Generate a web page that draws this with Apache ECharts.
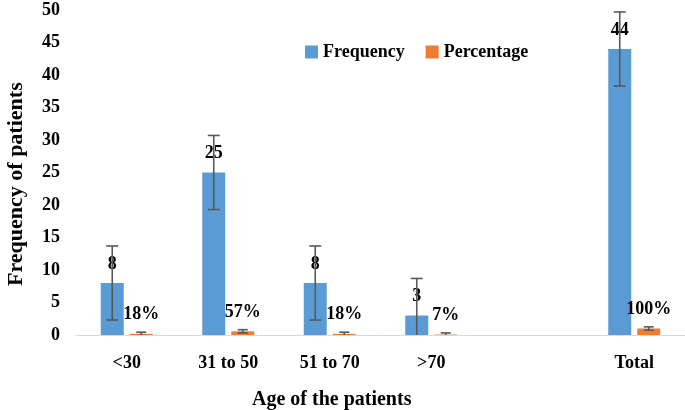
<!DOCTYPE html>
<html>
<head>
<meta charset="utf-8">
<script src="https://cdn.jsdelivr.net/npm/echarts@6/dist/echarts.min.js"></script>
<style>
html,body{margin:0;padding:0;background:#fff;}
#c{width:685px;height:410px;}
</style>
</head>
<body>
<div id="c"></div>
<script>
// ---- data ----
const categories = ['<30', '31 to 50', '51 to 70', '>70', '', 'Total'];
const frequency = [8, 25, 8, 3, null, 44];
const percentage = [0.18, 0.57, 0.18, 0.07, null, 1.0];
const frequencyError = [5.7, 5.7, 5.7, 5.7, null, 5.7];
const percentageError = [0.25, 0.25, 0.25, 0.25, null, 0.25];
const yTicks = { min: 0, max: 50, interval: 5 };

// ---- styles ----
const FONT = '"Liberation Serif", "Times New Roman", serif';
const BAR_W = 23, BAR_GAP_PX = 6;
const OFFSET = (BAR_W + BAR_GAP_PX) / 2;

const chart = echarts.init(document.getElementById('c'));

function errorSeries(values, errors, offset, capHalf) {
  return {
    type: 'custom',
    clip: true,
    silent: true,
    z: 10,
    data: values.map((v, i) => v == null ? null : [i, v, errors[i]]),
    renderItem: function (params, api) {
      const i = api.value(0), v = api.value(1), e = api.value(2);
      const hi = api.coord([i, v + e]);
      const lo = api.coord([i, v - e]);
      const x = hi[0] + offset;
      const style = { stroke: '#595959', lineWidth: 1.6 };
      return {
        type: 'group',
        children: [
          { type: 'line', shape: { x1: x, y1: hi[1], x2: x, y2: lo[1] }, style },
          { type: 'line', shape: { x1: x - capHalf, y1: hi[1], x2: x + capHalf, y2: hi[1] }, style },
          { type: 'line', shape: { x1: x - capHalf, y1: lo[1], x2: x + capHalf, y2: lo[1] }, style }
        ]
      };
    }
  };
}

const labelStyle = { fontFamily: FONT, fontWeight: 'bold', fontSize: 18, color: '#000' };

chart.setOption({
  animation: false,
  backgroundColor: '#fff',
  grid: { left: 76, right: 0, top: 10, bottom: 75, containLabel: false },
  legend: {
    data: ['Frequency', 'Percentage'],
    left: 300, top: 38,
    icon: 'rect', itemWidth: 13, itemHeight: 13, itemGap: 21,
    textStyle: { fontFamily: FONT, fontWeight: 'bold', fontSize: 18, color: '#000' }
  },
  xAxis: {
    type: 'category',
    data: categories,
    axisLine: { lineStyle: { color: '#D9D9D9', width: 1 } },
    axisTick: { show: false },
    axisLabel: Object.assign({ margin: 19, interval: 0 }, labelStyle)
  },
  yAxis: {
    type: 'value',
    min: yTicks.min, max: yTicks.max, interval: yTicks.interval,
    axisLine: { show: false },
    axisTick: { show: false },
    splitLine: { show: false },
    axisLabel: Object.assign({ margin: 16 }, labelStyle)
  },
  graphic: [
    { type: 'text', left: 252, top: 390, style: { text: 'Age of the patients', font: 'bold 20px ' + FONT, fill: '#000' } },
    { type: 'text', rotation: Math.PI / 2, x: 5, y: 286, style: { text: 'Frequency of patients', font: 'bold 22px ' + FONT, fill: '#000' } }
  ],
  series: [
    {
      name: 'Frequency', type: 'bar', data: frequency,
      barWidth: BAR_W, barGap: (BAR_GAP_PX / BAR_W * 100) + '%',
      itemStyle: { color: '#5B9BD5' },
      label: Object.assign({ show: true, position: 'top', distance: 10 }, labelStyle)
    },
    {
      name: 'Percentage', type: 'bar', data: percentage,
      barWidth: BAR_W,
      itemStyle: { color: '#ED7D31' },
      label: Object.assign({ show: true, position: 'top', distance: 10,
        formatter: p => Math.round(p.value * 100) + '%' }, labelStyle)
    },
    errorSeries(frequency, frequencyError, -OFFSET, 6),
    errorSeries(percentage, percentageError, OFFSET, 5)
  ]
});
</script>
</body>
</html>
